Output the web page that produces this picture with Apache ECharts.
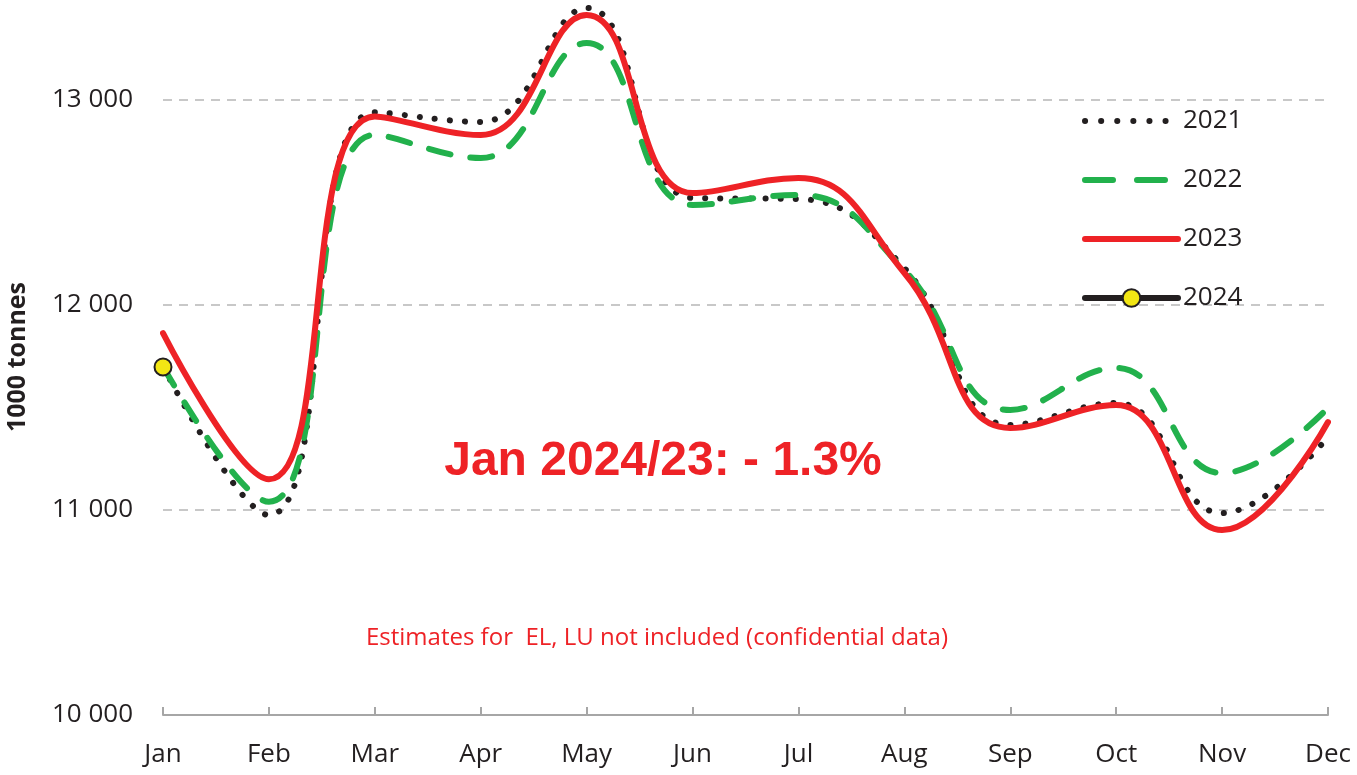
<!DOCTYPE html>
<html><head><meta charset="utf-8">
<script src="https://cdn.jsdelivr.net/npm/echarts@6/dist/echarts.min.js"></script>
<style>html,body{margin:0;padding:0;background:#fff}#c{width:1357px;height:775px}</style>
</head><body><div id="c"></div>
<script>
const months = ['Jan','Feb','Mar','Apr','May','Jun','Jul','Aug','Sep','Oct','Nov','Dec'];
const s2021 = [11700, 10975, 12940, 12893, 13449, 12522, 12517, 12180, 11415, 11522, 10985, 11356];
const s2022 = [11700, 11040, 12830, 12717, 13278, 12488, 12537, 12170, 11488, 11693, 11180, 11498];
const s2023 = [11863, 11150, 12920, 12829, 13415, 12546, 12620, 12156, 11400, 11512, 10902, 11429];
const s2024 = [11698];
const yTicks = [10000, 11000, 12000, 13000];
const note1 = 'Jan 2024/23: - 1.3%';
const note2 = 'Estimates for  EL, LU not included (confidential data)';
const yName = '1000 tonnes';

const font = '"Open Sans", "Noto Sans", sans-serif';
const chart = echarts.init(document.getElementById('c'), null, {renderer: 'canvas'});
chart.setOption({
  animation: false,
  grid: {left: 163, right: 29, top: 100, bottom: 60},
  legend: {
    orient: 'vertical', left: 1077, top: 103, itemWidth: 93, itemHeight: 22, itemGap: 33,
    textStyle: {fontFamily: font, fontSize: 26, color: '#231f20', padding: [0,0,0,0]},
    data: [
      {name: '2021', itemStyle: {opacity: 0}, lineStyle: {width: 6, type: [0.1, 16], cap: 'round'}},
      {name: '2022', itemStyle: {opacity: 0}, lineStyle: {width: 6, type: [28, 24], cap: 'round'}},
      {name: '2023', itemStyle: {opacity: 0}, lineStyle: {width: 6, cap: 'round'}},
      {name: '2024', lineStyle: {width: 6, cap: 'round'}}
    ]
  },
  xAxis: {
    type: 'category', data: months, boundaryGap: false,
    axisLine: {lineStyle: {color: '#a6a6a6', width: 2}},
    axisTick: {inside: true, length: 8, lineStyle: {color: '#a6a6a6', width: 2}},
    axisLabel: {margin: 27, fontFamily: font, fontSize: 26, color: '#231f20'}
  },
  yAxis: {
    type: 'value', min: yTicks[0], max: yTicks[yTicks.length-1], interval: 1000,
    axisLine: {show: false}, axisTick: {show: false},
    axisLabel: {margin: 30, fontFamily: font, fontSize: 26, color: '#231f20',
      formatter: v => String(v).replace(/\B(?=(\d{3})+(?!\d))/g, ' ')},
    splitLine: {lineStyle: {color: '#c8c8c8', width: 2, type: [9, 7]}}
  },
  series: [
    {name: '2021', type: 'line', data: s2021, smooth: 0.45, clip: false, symbol: 'none', z: 2,
     itemStyle: {color: '#231f20'},
     lineStyle: {color: '#231f20', width: 6, type: [0.1, 15], cap: 'round'}},
    {name: '2022', type: 'line', data: s2022, smooth: 0.45, clip: false, symbol: 'none', z: 3,
     itemStyle: {color: '#22b14c'},
     lineStyle: {color: '#22b14c', width: 6, type: [22, 20], cap: 'round'}},
    {name: '2023', type: 'line', data: s2023, smooth: 0.45, clip: false, symbol: 'none', z: 4,
     itemStyle: {color: '#ee2226'},
     lineStyle: {color: '#ee2226', width: 6, cap: 'round'}},
    {name: '2024', type: 'line', data: s2024, clip: false, symbol: 'circle', symbolSize: 17, z: 5,
     itemStyle: {color: '#f2e614', borderColor: '#231f20', borderWidth: 2},
     lineStyle: {color: '#231f20', width: 6}}
  ],
  graphic: [
    {type: 'text', x: 18, y: 357, rotation: Math.PI / 2, style: {text: yName, fill: '#231f20',
      font: 'bold 25px ' + font, align: 'center', verticalAlign: 'middle'}},
    {type: 'text', x: 663, y: 462, style: {text: note1, fill: '#ee2226',
      font: 'bold 48px "Liberation Sans", Arial, sans-serif', align: 'center', verticalAlign: 'middle'}},
    {type: 'text', x: 657, y: 638, style: {text: note2, fill: '#ee2226',
      font: '24px ' + font, align: 'center', verticalAlign: 'middle'}}
  ]
});
</script></body></html>
